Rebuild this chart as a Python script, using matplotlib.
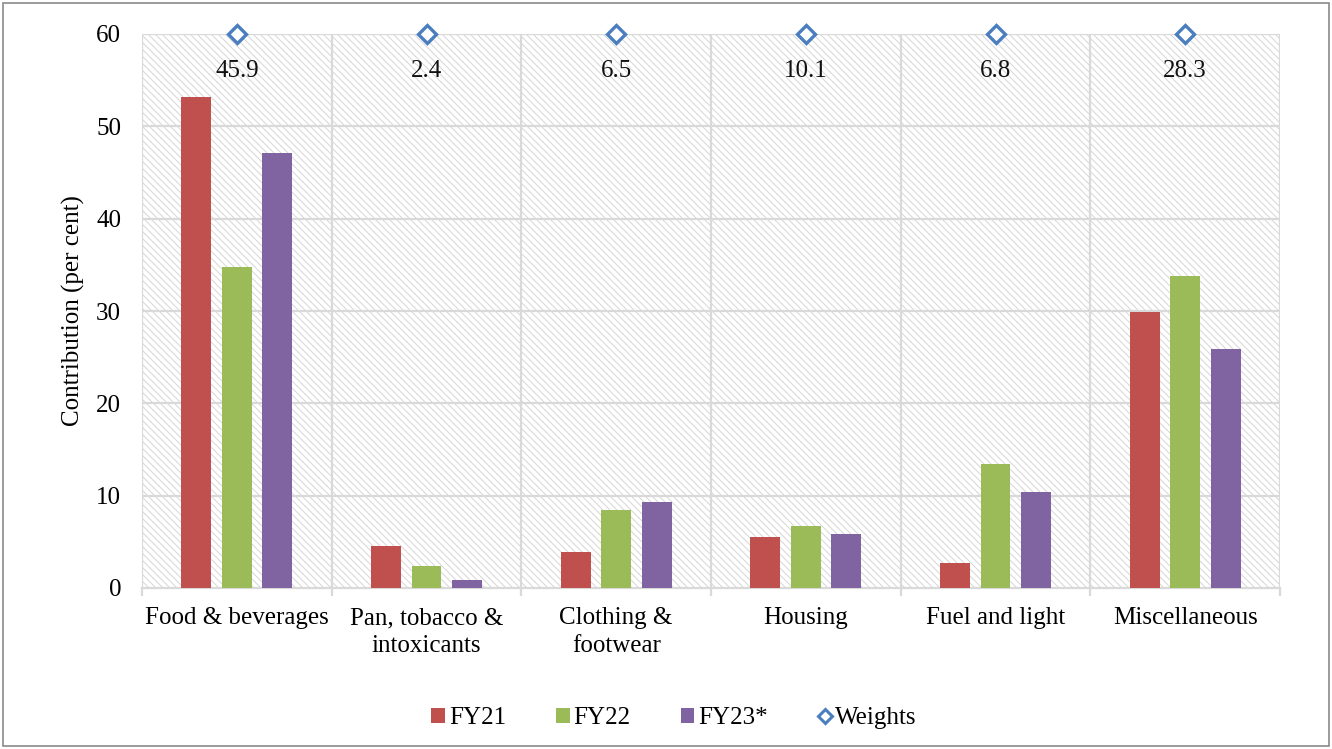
import matplotlib
matplotlib.use("Agg")
import matplotlib.pyplot as plt
import matplotlib.transforms as mtransforms
from matplotlib.patches import Rectangle
from matplotlib.lines import Line2D
from matplotlib.patches import Patch
from matplotlib.collections import LineCollection
import numpy as np

categories = ["Food & beverages", "Pan, tobacco &\nintoxicants", "Clothing &\nfootwear",
              "Housing", "Fuel and light", "Miscellaneous"]
fy21 = [53.2, 4.5, 3.9, 5.5, 2.7, 29.9]
fy22 = [34.8, 2.4, 8.4, 6.7, 13.4, 33.8]
fy23 = [47.1, 0.9, 9.3, 5.8, 10.4, 25.9]
weights = [45.9, 2.4, 6.5, 10.1, 6.8, 28.3]
series_names = ["FY21", "FY22", "FY23*", "Weights"]
yticks = [0, 10, 20, 30, 40, 50, 60]

colors = ["#c0504d", "#9bbb59", "#8064a2"]
wcolor = "#4a7ebf"

plt.rcParams['font.family'] = ['Liberation Serif', 'DejaVu Serif']

fig = plt.figure(figsize=(13.32, 7.49), dpi=100)
ax = fig.add_axes([142/1332, 1-588/749, (1280-142)/1332, (588-34)/749])

x = np.arange(len(categories))
step = 0.213
width = 0.158

# hatched background (decorative diagonal lines, in axes pixel units)
W, H = 1280 - 142, 588 - 34
tr = mtransforms.Affine2D().scale(1.0 / W, 1.0 / H) + ax.transAxes
segs = []
for c in np.arange(0, W + H, 7.0):
    segs.append([(c - H, H), (c, 0)])
lc = LineCollection(segs, colors='#d8d8d8', linewidths=0.75, transform=tr, zorder=0)
ax.add_collection(lc)
lc.set_clip_path(Rectangle((0, 0), 1, 1, transform=ax.transAxes))

for yv in yticks[1:]:
    ax.axhline(yv, color='#d9d9d9', lw=1.6, zorder=1)
for xv in np.arange(-0.5, len(categories) + 0.5, 1.0):
    ax.axvline(xv, color='#d9d9d9', lw=1.6, zorder=1)

for i, (vals, c, name) in enumerate(zip([fy21, fy22, fy23], colors, series_names[:3])):
    ax.bar(x + (i - 1) * step, vals, width, color=c, zorder=3, label=name)

marker_y = 60
ax.plot(x, [marker_y] * len(x), linestyle='none', marker='D', markersize=9.5,
        markerfacecolor='white', markeredgecolor=wcolor, markeredgewidth=2.4,
        clip_on=False, zorder=5, label=series_names[3])
for xi, w in zip(x, weights):
    ax.text(xi, 56.0, f"{w}", ha='center', va='center', fontsize=18, color='#111111')

ax.set_xlim(-0.5, len(categories) - 0.5)
ax.set_ylim(0, 60)
ax.set_yticks(yticks)
ax.set_xticks(x)
ax.set_xticklabels(categories, fontsize=18, linespacing=1.3)
ax.tick_params(axis='y', length=0, pad=15, labelsize=18)
ax.tick_params(axis='x', length=0, pad=14)
ax.set_xticks(np.arange(-0.5, len(categories) + 0.5, 1.0), minor=True)
ax.tick_params(axis='x', which='minor', length=6, color='#d9d9d9', width=1.6)
for s in ['top', 'right', 'left']:
    ax.spines[s].set_visible(False)
ax.spines['bottom'].set_color('#d9d9d9')
ax.spines['bottom'].set_linewidth(1.6)
ax.set_ylabel("Contribution (per cent)", fontsize=18, labelpad=8)

handles = [Patch(facecolor=c, edgecolor='none') for c in colors]
handles.append(Line2D([], [], linestyle='none', marker='D', markersize=7,
                      markerfacecolor='white', markeredgecolor=wcolor, markeredgewidth=2.2))
leg = fig.legend(handles, series_names, loc='center', bbox_to_anchor=(674/1332, 1-718/749),
                 ncol=4, frameon=False, fontsize=18, handlelength=0.55, handleheight=0.55,
                 handletextpad=0.15, columnspacing=2.0)

fig.patches.append(Rectangle((3/1332, 3/749), 1-6/1332, 1-6/749, transform=fig.transFigure,
                             fill=False, edgecolor='#8a8a8a', linewidth=1.2))

fig.savefig("out.png", dpi=100)
